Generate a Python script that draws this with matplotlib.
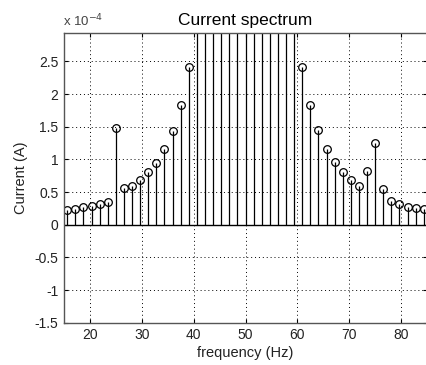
import numpy as np
import matplotlib
matplotlib.use("Agg")
import matplotlib.pyplot as plt

plt.rcParams["font.family"] = ["Liberation Sans", "DejaVu Sans"]

# frequency bins (Hz), resolution 1.5625 Hz
freq = [15.625 + 1.5625 * i for i in range(45)]

# current amplitude, in units of 1e-4 A
current_e4 = [
    0.225, 0.24, 0.266, 0.286, 0.317, 0.347, 1.48, 0.556, 0.60, 0.68,
    0.80, 0.95, 1.157, 1.43, 1.84, 2.42,
    # around 50 Hz fundamental (off the top of the view)
    3.1, 3.6, 4.4, 5.6, 7.8, 12.5, 150.0, 12.5, 7.8, 5.6, 4.4, 3.6, 3.1,
    2.42, 1.84, 1.45, 1.157, 0.96, 0.806, 0.68, 0.597, 0.826, 1.25, 0.54,
    0.357, 0.317, 0.276, 0.25, 0.235,
]

yticks = [-1.5, -1, -0.5, 0, 0.5, 1, 1.5, 2, 2.5]
xticks = [20, 30, 40, 50, 60, 70, 80]

fig = plt.figure(figsize=(4.26, 3.65), dpi=100)
ax = fig.add_axes([64 / 426, 42.3 / 365, 363 / 426, 289.4 / 365])

ax.axhline(0, color="black", lw=1.0, zorder=2)
markers, stems, base = ax.stem(freq, current_e4, basefmt=" ")
plt.setp(stems, color="black", linewidth=0.9)
plt.setp(markers, color="black", markerfacecolor="none", markersize=5.5,
         markeredgewidth=0.9)

ax.set_xlim(15, 85)
ax.set_ylim(-1.5, 2.93)
ax.set_xticks(xticks)
ax.set_yticks(yticks)
ax.set_yticklabels([("%g" % t) for t in yticks])
ax.grid(True, color="black", linestyle=(0, (1, 3)), linewidth=0.7)
ax.tick_params(direction="in", length=3, labelsize=10, colors="black",
               labelcolor="#222222", top=True, right=True, pad=4)
for s in ax.spines.values():
    s.set_color("#555555")
    s.set_linewidth(1.0)

ax.set_xlabel("frequency (Hz)", fontsize=10.5, color="#222222", labelpad=3)
ax.set_ylabel("Current (A)", fontsize=10.5, color="#222222", labelpad=5)
ax.set_title("Current spectrum", fontsize=12.5, pad=6)
ax.text(-0.003, 1.015, r"x 10$^{-4}$", transform=ax.transAxes, fontsize=9.5,
        ha="left", va="bottom", color="#444444")

fig.savefig("out.png", dpi=100)
